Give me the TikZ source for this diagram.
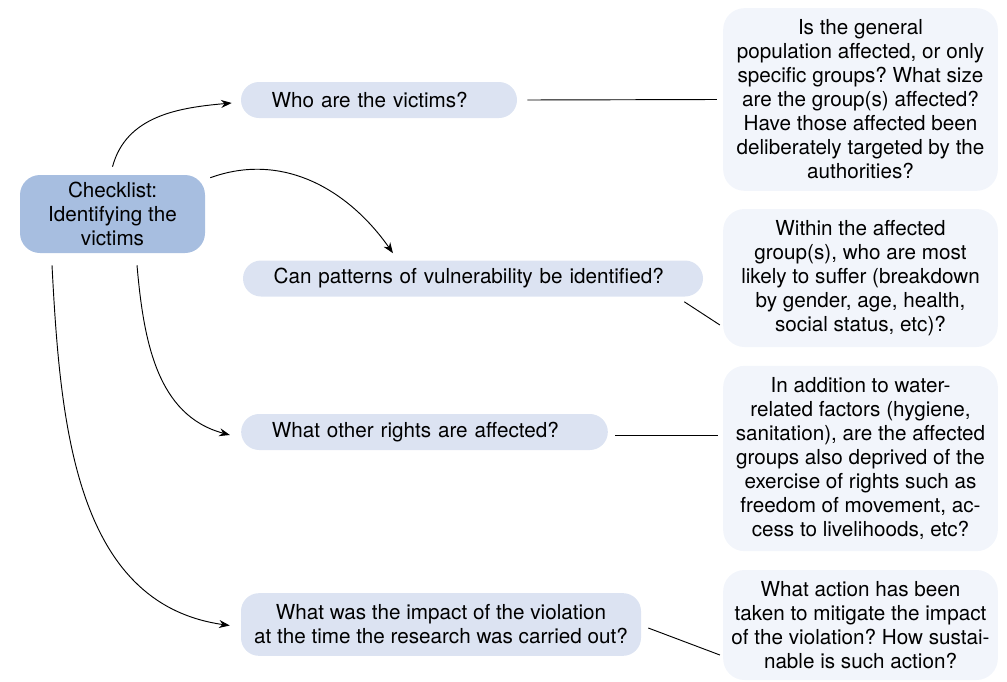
\documentclass[tikz,border=0pt]{standalone}
\usepackage{fontspec}
\setmainfont{TeX Gyre Heros}
\frenchspacing
\usetikzlibrary{arrows.meta,calc}
\definecolor{checkblue}{HTML}{A7BEE0}
\definecolor{askblue}{HTML}{DCE3F2}
\definecolor{notefill}{HTML}{F2F5FB}
\tikzset{
	txt/.style = {font=\fontsize{15.5}{18}\selectfont},
	checkbox/.style = {txt, fill=checkblue, rounded corners=15pt, minimum width=138.75pt, minimum height=58.5pt, inner sep=0pt, align=center},
	ask/.style = {txt, fill=askblue, rounded corners=13.5pt, minimum height=27pt, inner xsep=23pt, inner ysep=0pt, align=left},
	note/.style = {txt, fill=notefill, rounded corners=16pt, minimum width=206pt, inner sep=0pt, align=center},
	link/.style = {line width=0.7pt},
	branch/.style = {line width=0.7pt, -{Stealth[length=8pt,width=6pt]}}
}

\begin{document}
\begin{tikzpicture}[x=0.75pt,y=0.75pt]
	\useasboundingbox (0,0) rectangle (1007,-682);
	\node [checkbox] (check) at (112.5,-214) {Checklist:\\Identifying the\\victims};
	\node [ask, text width=161pt] (q1) at (379,-100) {Who are the victims?};
	\node [ask, text width=299pt] (q2) at (473,-278.5) {Can patterns of vulnerability be identified?};
	\node [ask, text width=229pt] (q3) at (424.5,-432) {What other rights are affected?};
	\node [ask, inner xsep=0pt, minimum width=300pt, minimum height=47pt, align=center] (q4) at (441,-624.5) {What was the impact of the violation\\at the time the research was carried out?};
	\node [note, minimum height=137pt] (r1) at (860.5,-99.5) {Is the general\\population affected, or only\\specific groups? What size\\are the group(s) affected?\\Have those affected been\\deliberately targeted by the\\authorities?};
	\node [note, minimum height=103.5pt] (r2) at (860.5,-278) {Within the affected\\group(s), who are most\\likely to suffer (breakdown\\by gender, age, health,\\social status, etc)?};
	\node [note, minimum height=139pt] (r3) at (860.5,-458.5) {In addition to water-\\related factors (hygiene,\\sanitation), are the affected\\groups also deprived of the\\exercise of rights such as\\freedom of movement, ac-\\cess to livelihoods, etc?};
	\node [note, minimum height=82.5pt] (r4) at (860.5,-625) {What action has been\\taken to mitigate the impact\\of the violation? How sustai-\\nable is such action?};
	\draw [branch] ($(check.north)+(0,8)$) to[out=75,in=185] ($(q1.west)+(-9,-3)$);
	\draw [branch] ($(check.north east)+(5,-3)$) to[out=20,in=125] ($(q2.north)+(-80,7)$);
	\draw [branch] ($(check.south)+(24.5,-12)$) to[out=-85,in=165] ($(q3.west)+(-11,-3)$);
	\draw [branch] ($(check.south)+(-60.5,-12)$) to[out=-87,in=172] ($(q4.west)+(-11,-1)$);
	\draw [link] ($(q1.east)+(10,0)$) -- ($(r1.west)+(-6,0)$);
	\draw [link] ($(q2.south east)+(-19,-5)$) -- ($(r2.west)+(-3,-47)$);
	\draw [link] ($(q3.east)+(7,-3)$) -- ($(r3.west)+(-5,23.5)$);
	\draw [link] ($(q4.east)+(7,-3.5)$) -- ($(r4.west)+(-3,-30)$);
\end{tikzpicture}
\end{document}
